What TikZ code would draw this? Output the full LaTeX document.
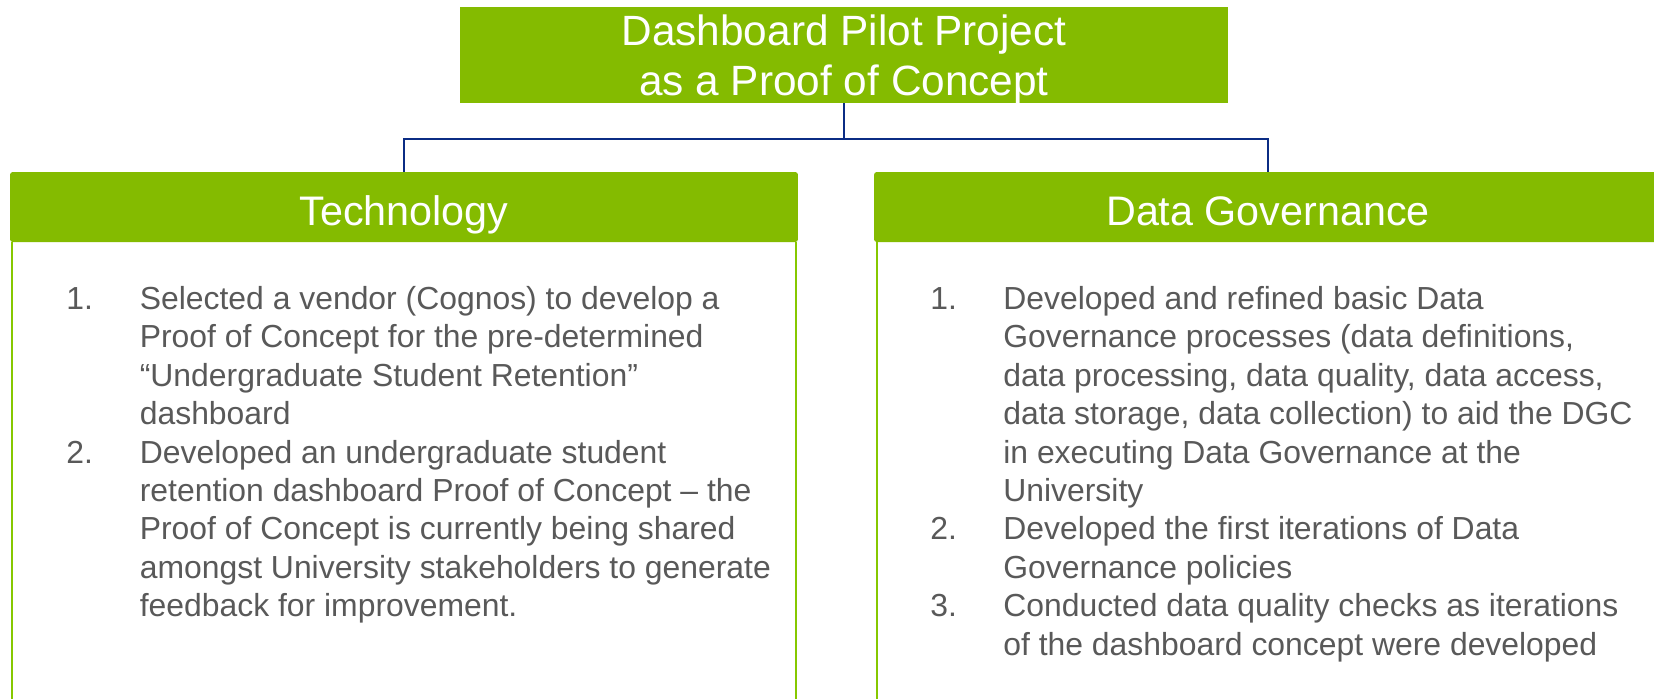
\documentclass[tikz,border=0pt]{standalone}
\usepackage{fontspec}
\setmainfont{Liberation Sans}
\definecolor{hdrgreen}{HTML}{84BB00}
\definecolor{linegreen}{HTML}{86C800}
\definecolor{connnavy}{HTML}{0B2C84}
\definecolor{txtgray}{HTML}{595959}
\tikzset{
  greenbox/.style={fill=hdrgreen, draw=none, inner sep=0pt},
  hdrbox/.style={greenbox, rounded corners=1.5pt},
  conn/.style={draw=connnavy, line width=1.15pt},
  bodyline/.style={draw=linegreen, line width=1.15pt},
  titletext/.style={text=white, inner sep=0pt, font=\fontsize{24.1}{28}\selectfont},
  hdrtext/.style={text=white, inner sep=0pt, font=\fontsize{23.5}{27}\selectfont},
  bodytext/.style={text=txtgray, inner sep=0pt, anchor=base west, font=\fontsize{18.15}{21.5}\selectfont},
}
\begin{document}
\begin{tikzpicture}[x=0.02cm,y=-0.02cm]
\useasboundingbox (0,0) rectangle (1654,698);
\fill[white] (0,0) rectangle (1654,698);
% boxes
\node[greenbox, minimum width=15.36cm, minimum height=1.92cm] (title) at (844,55) {};
\node[hdrbox, minimum width=15.76cm, minimum height=1.4cm] (lhead) at (404,207) {};
\node[hdrbox, minimum width=15.76cm, minimum height=1.4cm] (rhead) at (1268,207) {};
% texts in boxes
\node[titletext, anchor=base] (t1) at (844,45.5) {Dashboard Pilot Project};
\node[titletext, anchor=base] (t2) at (844,95.5) {as a Proof of Concept};
\node[hdrtext, anchor=base] (lh) at (404,225) {Technology};
\node[hdrtext, anchor=base] (rh) at (1268,225) {Data Governance};
% connectors
\draw[conn] (title.south) -- ++(0,36) -| (lhead.north);
\draw[conn] (title.south) -- ++(0,36) -| (rhead.north);
% body outlines
\draw[bodyline] ([xshift=0.04cm]lhead.south west) -- ++(0,480);
\draw[bodyline] ([xshift=-0.04cm]lhead.south east) -- ++(0,480);
\draw[bodyline] ([xshift=0.06cm]rhead.south west) -- ++(0,480);
% left column
\node[bodytext] (ln1) at (66,309.5) {1.};
\node[bodytext] (ln2) at (66,463.1) {2.};
\foreach \t [count=\i] in {{Selected a vendor (Cognos) to develop a},
  {Proof of Concept for the pre-determined},
  {“Undergraduate Student Retention”},
  {dashboard},
  {Developed an undergraduate student},
  {retention dashboard Proof of Concept – the},
  {Proof of Concept is currently being shared},
  {amongst University stakeholders to generate},
  {feedback for improvement.}}
  \node[bodytext] (l\i) at (139.5,{309.5+38.4*(\i-1)}) {\t};
% right column
\node[bodytext] (rn1) at (930,309.5) {1.};
\node[bodytext] (rn2) at (930,539.9) {2.};
\node[bodytext] (rn3) at (930,616.7) {3.};
\foreach \t [count=\i] in {{Developed and refined basic Data},
  {Governance processes (data definitions,},
  {data processing, data quality, data access,},
  {data storage, data collection) to aid the DGC},
  {in executing Data Governance at the},
  {University},
  {Developed the first iterations of Data},
  {Governance policies},
  {Conducted data quality checks as iterations},
  {of the dashboard concept were developed}}
  \node[bodytext] (r\i) at (1003,{309.5+38.4*(\i-1)}) {\t};
\end{tikzpicture}
\end{document}
